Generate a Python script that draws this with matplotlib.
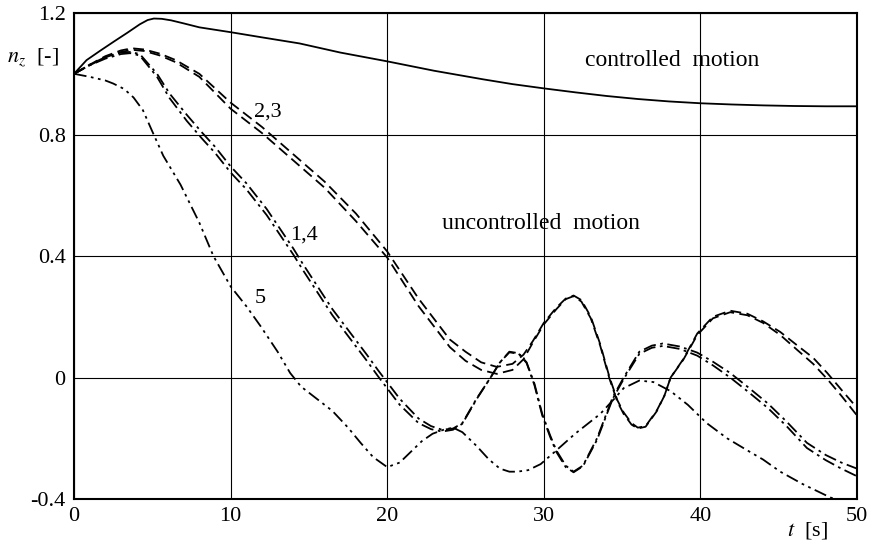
import matplotlib
matplotlib.use("Agg")
import matplotlib.pyplot as plt

# controlled motion
t_ctrl = [0, 0.8, 1.7, 2.6, 3.4, 4.2, 4.7, 5.1, 5.6, 6.2, 7, 8, 10, 12, 14.4, 17, 20, 23, 26.1, 28,
          30, 32, 34, 36, 38, 40, 42, 44, 46, 48, 50]
nz_ctrl = [1.0, 1.045, 1.077, 1.108, 1.135, 1.163, 1.177, 1.182, 1.181, 1.176, 1.166, 1.153, 1.137,
           1.12, 1.10, 1.07, 1.041, 1.01, 0.982, 0.966, 0.952, 0.939, 0.927, 0.917, 0.909, 0.903,
           0.899, 0.896, 0.894, 0.893, 0.893]

# uncontrolled motion, curves 2 and 3 (dashed)
t_23 = [0, 1, 2, 3, 3.7, 4.5, 5.5, 6.5, 8, 10, 12, 14, 16, 18, 20, 22, 24, 25, 26, 27, 28, 28.7,
        29.3, 30, 30.8, 31.4, 31.9, 32.4, 33, 33.6, 34.2, 34.7, 35.1, 35.6, 36, 36.5, 37.2, 37.7,
        38.1, 38.9, 39.8, 40.8, 41.9, 43, 44, 45.1, 46.2, 47.2, 48.1, 49, 50]
nz_2 = [1.0, 1.03, 1.058, 1.077, 1.084, 1.08, 1.066, 1.045, 1.0, 0.905, 0.825, 0.735, 0.645, 0.54,
        0.415, 0.26, 0.125, 0.085, 0.05, 0.035, 0.045, 0.075, 0.12, 0.18, 0.23, 0.26, 0.27, 0.255,
        0.2, 0.11, 0.0, -0.075, -0.115, -0.15, -0.165, -0.16, -0.11, -0.06, 0.0, 0.06, 0.145,
        0.2, 0.22, 0.21, 0.185, 0.15, 0.105, 0.065, 0.015, -0.04, -0.1]
nz_3 = [1.0, 1.028, 1.054, 1.072, 1.079, 1.075, 1.06, 1.038, 0.99, 0.885, 0.805, 0.715, 0.625,
        0.515, 0.395, 0.235, 0.1, 0.055, 0.025, 0.012, 0.025, 0.06, 0.115, 0.175, 0.225, 0.258,
        0.268, 0.25, 0.195, 0.105, -0.005, -0.08, -0.12, -0.155, -0.168, -0.162, -0.112, -0.06,
        0.0, 0.058, 0.14, 0.195, 0.215, 0.205, 0.18, 0.14, 0.09, 0.045, -0.005, -0.06, -0.125]

# uncontrolled motion, curves 1 and 4 (dash-dot)
t_14 = [0, 1, 2, 3, 3.6, 4.2, 5.3, 6.1, 7.2, 8.2, 9, 10, 11, 12.3, 14, 14.6, 16.5, 18.7, 19.4,
        20.8, 22, 22.8, 23.5, 24.2, 24.8, 25.7, 26.6, 27.2, 27.8, 28.4, 28.9, 29.4, 29.9, 30.4,
        30.8, 31.4, 31.9, 32.5, 33.4, 34.4, 35.1, 36.1, 36.9, 37.6, 38.7, 39.8, 40.8, 41.9, 43,
        44.3, 45.5, 46.8, 48, 49, 50]
nz_1 = [1.0, 1.03, 1.055, 1.07, 1.072, 1.065, 1.0, 0.935, 0.865, 0.805, 0.76, 0.695, 0.64, 0.555,
        0.425, 0.375, 0.225, 0.075, 0.025, -0.07, -0.135, -0.16, -0.172, -0.168, -0.15, -0.07,
        0.0, 0.05, 0.085, 0.08, 0.05, -0.02, -0.12, -0.19, -0.24, -0.29, -0.31, -0.29, -0.2,
        -0.065, 0.0, 0.085, 0.105, 0.112, 0.102, 0.082, 0.052, 0.015, -0.03, -0.085, -0.145,
        -0.215, -0.255, -0.28, -0.3]
nz_4 = [1.0, 1.028, 1.05, 1.065, 1.068, 1.06, 0.99, 0.92, 0.845, 0.785, 0.74, 0.675, 0.62, 0.535,
        0.405, 0.355, 0.205, 0.055, 0.005, -0.09, -0.15, -0.17, -0.178, -0.172, -0.152, -0.072,
        0.0, 0.05, 0.083, 0.078, 0.048, -0.025, -0.125, -0.195, -0.245, -0.295, -0.312, -0.292,
        -0.205, -0.07, -0.005, 0.078, 0.098, 0.104, 0.094, 0.072, 0.04, 0.0, -0.045, -0.1,
        -0.16, -0.232, -0.272, -0.3, -0.325]

# uncontrolled motion, curve 5 (dash-dot-dot)
t_5 = [0, 1, 2, 2.5, 3.2, 3.8, 4.4, 5, 5.7, 6.8, 8, 8.9, 10, 11, 11.9, 13, 13.8, 14.5, 15.5, 16.5,
       17.5, 18.3, 19.1, 20, 20.8, 21.5, 22.2, 22.9, 23.6, 24.2, 24.8, 25.7, 26.5, 27.2, 27.8,
       28.3, 29, 29.8, 30.8, 32, 33.6, 34.5, 35.1, 36.1, 37, 38.1, 39.2, 40.4, 41.7, 43, 44,
       45.1, 46.5, 48.3, 49.2]
nz_5 = [1.0, 0.99, 0.978, 0.968, 0.95, 0.922, 0.88, 0.81, 0.73, 0.635, 0.51, 0.40, 0.30, 0.235,
        0.17, 0.085, 0.015, -0.03, -0.07, -0.11, -0.165, -0.215, -0.262, -0.295, -0.28, -0.245,
        -0.21, -0.185, -0.172, -0.165, -0.18, -0.225, -0.27, -0.3, -0.31, -0.31, -0.305, -0.285,
        -0.24, -0.185, -0.12, -0.07, -0.035, -0.01, -0.015, -0.045, -0.09, -0.15, -0.2, -0.24,
        -0.27, -0.31, -0.35, -0.395, -0.41]

x_ticks = [0, 10, 20, 30, 40, 50]
y_ticks = [-0.4, 0, 0.4, 0.8, 1.2]
y_tick_labels = ["-0.4", "0", "0.4", "0.8", "1.2"]

plt.rcParams["font.family"] = ["Liberation Serif", "DejaVu Serif"]
plt.rcParams["mathtext.fontset"] = "stix"

fig = plt.figure(figsize=(8.72, 5.44), dpi=100)
ax = fig.add_axes([0.0849, 0.0827, 0.8979, 0.8933])

dash = (0, (6, 3))
dash_dot = (0, (7, 2.5, 1.5, 2.5))
dash_dot_dot = (0, (7, 2.5, 1.5, 2.5, 1.5, 2.5))
lw = 1.3

ax.plot(t_ctrl, nz_ctrl, color="black", lw=lw, solid_capstyle="round")
ax.plot(t_23, nz_2, color="black", lw=lw, linestyle=dash)
ax.plot(t_23, nz_3, color="black", lw=lw, linestyle=dash)
ax.plot(t_14, nz_1, color="black", lw=lw, linestyle=dash_dot)
ax.plot(t_14, nz_4, color="black", lw=lw, linestyle=dash_dot)
ax.plot(t_5, nz_5, color="black", lw=lw, linestyle=dash_dot_dot)

ax.set_xlim(0, 50)
ax.set_ylim(-0.4, 1.2)
ax.set_xticks(x_ticks)
ax.set_yticks(y_ticks)
ax.set_yticklabels(y_tick_labels)
ax.tick_params(length=0, labelsize=16, pad=6)
ax.grid(True, color="black", lw=0.8)
for s in ax.spines.values():
    s.set_linewidth(1.5)

ax.text(0.008, 0.895, r"$n_z$  [-]", transform=fig.transFigure, fontsize=16,
        ha="left", va="center")
ax.text(0.902, 0.025, r"$t$  [s]", transform=fig.transFigure, fontsize=16,
        ha="left", va="center")

ax.text(38.2, 1.044, "controlled  motion", fontsize=17, ha="center", va="center")
ax.text(29.8, 0.507, "uncontrolled  motion", fontsize=17, ha="center", va="center")
ax.text(12.4, 0.875, "2,3", fontsize=16, ha="center", va="center")
ax.text(14.7, 0.47, "1,4", fontsize=16, ha="center", va="center")
ax.text(11.9, 0.26, "5", fontsize=16, ha="center", va="center")

fig.savefig("out.png", dpi=100)
